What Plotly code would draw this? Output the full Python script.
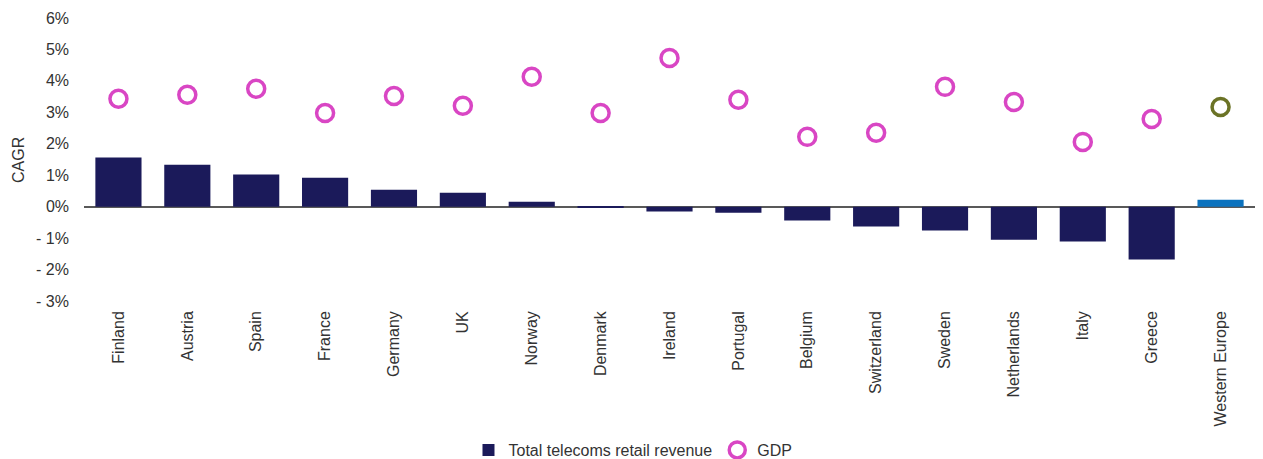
import plotly.graph_objects as go

categories = ["Finland", "Austria", "Spain", "France", "Germany", "UK", "Norway", "Denmark",
              "Ireland", "Portugal", "Belgium", "Switzerland", "Sweden", "Netherlands", "Italy",
              "Greece", "Western Europe"]
revenue = [1.56, 1.33, 1.02, 0.92, 0.54, 0.44, 0.16, -0.03, -0.15, -0.19, -0.44, -0.63,
           -0.76, -1.05, -1.11, -1.68, 0.22]
gdp = [3.43, 3.56, 3.75, 2.98, 3.52, 3.21, 4.13, 2.98, 4.73, 3.40, 2.22, 2.35, 3.81, 3.33,
       2.06, 2.79, 3.17]
tick_vals = [-3, -2, -1, 0, 1, 2, 3, 4, 5, 6]
tick_text = ["- 3%", "- 2%", "- 1%", "0%", "1%", "2%", "3%", "4%", "5%", "6%"]

navy = "#1B1A5A"
magenta = "#D946C4"
bar_colors = [navy] * (len(categories) - 1) + ["#0B72BE"]
gdp_colors = [magenta] * (len(categories) - 1) + ["#6B7326"]

# page body has an 8px margin, so the figure is sized/offset accordingly
W, H = 1255, 451
L, R, T, B = 76, 8, 10, 158
PW, PH = W - L - R, H - T - B

fig = go.Figure()
fig.add_trace(go.Bar(
    x=categories, y=revenue, name="Total telecoms retail revenue",
    marker=dict(color=bar_colors, line=dict(width=0)), width=0.67,
))
fig.add_trace(go.Scatter(
    x=categories, y=gdp, name="GDP", mode="markers",
    marker=dict(symbol="circle-open", size=17, color=gdp_colors,
                line=dict(width=3.5, color=gdp_colors)),
))

fig.add_annotation(text="CAGR", textangle=-90, xref="paper", yref="paper",
                   x=(10 - L) / PW, y=(PH + T - 152) / PH,
                   xanchor="center", yanchor="middle", showarrow=False,
                   font=dict(size=16, color="#333333"))

fig.update_layout(
    width=W, height=H,
    margin=dict(l=L, r=R, t=T, b=B, autoexpand=False),
    plot_bgcolor="white", paper_bgcolor="white",
    font=dict(family="Liberation Sans, Arial, sans-serif", size=16, color="#333333"),
    showlegend=True,
    legend=dict(orientation="h", xref="container", x=0.498, xanchor="center",
                yref="container", y=9 / H, yanchor="middle",
                font=dict(size=16), itemwidth=30, tracegroupgap=0),
    xaxis=dict(tickangle=-90, showgrid=False, showline=False, ticks="", automargin=False,
               tickfont=dict(size=16), ticklabelstandoff=6,
               range=[-0.5, len(categories) - 0.5]),
    yaxis=dict(range=[-3, 6], tickvals=tick_vals, ticktext=tick_text, showgrid=False,
               zeroline=True, zerolinecolor="#595959", zerolinewidth=1.5, automargin=False,
               showline=False, ticks="", ticklabelstandoff=14, tickfont=dict(size=16)),
)

fig.write_html("out.html")
